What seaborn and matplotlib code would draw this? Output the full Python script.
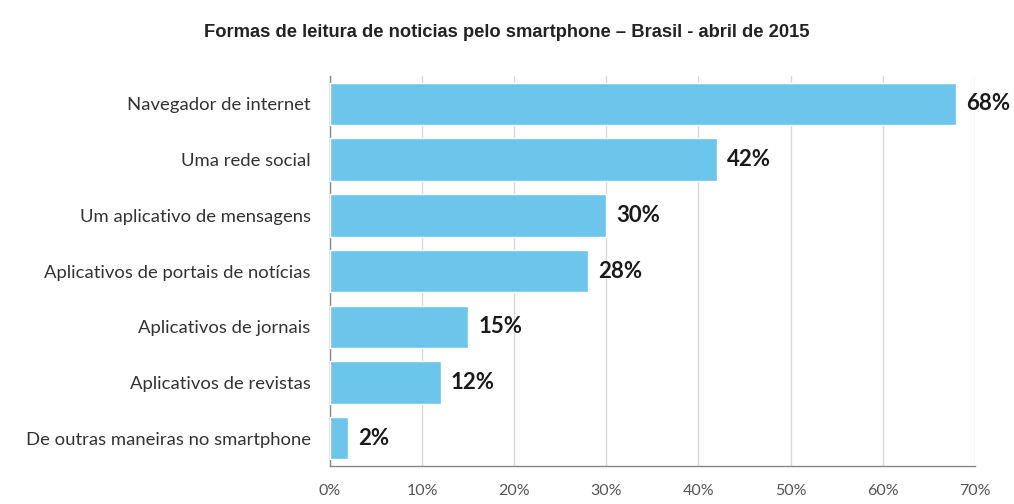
import numpy as np
import pandas as pd
from matplotlib import pyplot as plt
from matplotlib.ticker import FixedLocator, PercentFormatter
import seaborn as sns

# Dados
categorias = ['Navegador de internet', 'Uma rede social', 'Um aplicativo de mensagens',
              'Aplicativos de portais de notícias', 'Aplicativos de jornais',
              'Aplicativos de revistas', 'De outras maneiras no smartphone']
valores = [68, 42, 30, 28, 15, 12, 2]
titulo = 'Formas de leitura de noticias pelo smartphone \u2013 Brasil - abril de 2015'

df = pd.DataFrame({'categoria': categorias, 'valor': valores})

sns.set_style('white')
plt.rcParams['font.family'] = ['Lato', 'DejaVu Sans']

fig = plt.figure(figsize=(10.14, 5.04), dpi=100)
ax = fig.add_axes([0.3254, 0.0754, 0.636, 0.7736])

sns.barplot(data=df, x='valor', y='categoria', color='#6CC5EB', width=0.76,
            saturation=1, ax=ax, zorder=3)

ax.set_xlim(0, 70)
ax.set_xticks(np.arange(0, 71, 10))
ax.xaxis.set_major_formatter(PercentFormatter(decimals=0))
ax.grid(axis='x', color='#d9d9d9', linewidth=1, zorder=0)
ax.set_axisbelow(True)

# marcas entre categorias no eixo y
n = len(categorias)
ax.set_ylim(n - 0.5, -0.5)
ax.yaxis.set_minor_locator(FixedLocator(np.arange(-0.5, n, 1)))
ax.tick_params(axis='y', which='major', length=0, pad=14, labelsize=13.3, labelcolor='#333333')
ax.tick_params(axis='y', which='minor', length=5, color='#888888', width=1)
ax.tick_params(axis='x', which='major', length=5, color='#888888', labelsize=11.5,
               labelcolor='#555555', pad=8)

for s in ['top', 'right']:
    ax.spines[s].set_visible(False)
for s in ['left', 'bottom']:
    ax.spines[s].set_color('#888888')
    ax.spines[s].set_linewidth(1)

ax.set_xlabel('')
ax.set_ylabel('')

for i, v in enumerate(valores):
    ax.text(v + 1.1, i, f'{v}%', va='center', ha='left', fontsize=16,
            fontweight='bold', color='#1a1a1a')

fig.text(0.5, 0.935, titulo, ha='center', va='center', fontsize=13.2,
         fontweight='bold', family='Liberation Sans', color='#222222')

fig.savefig('out.png', dpi=100, facecolor='white')
